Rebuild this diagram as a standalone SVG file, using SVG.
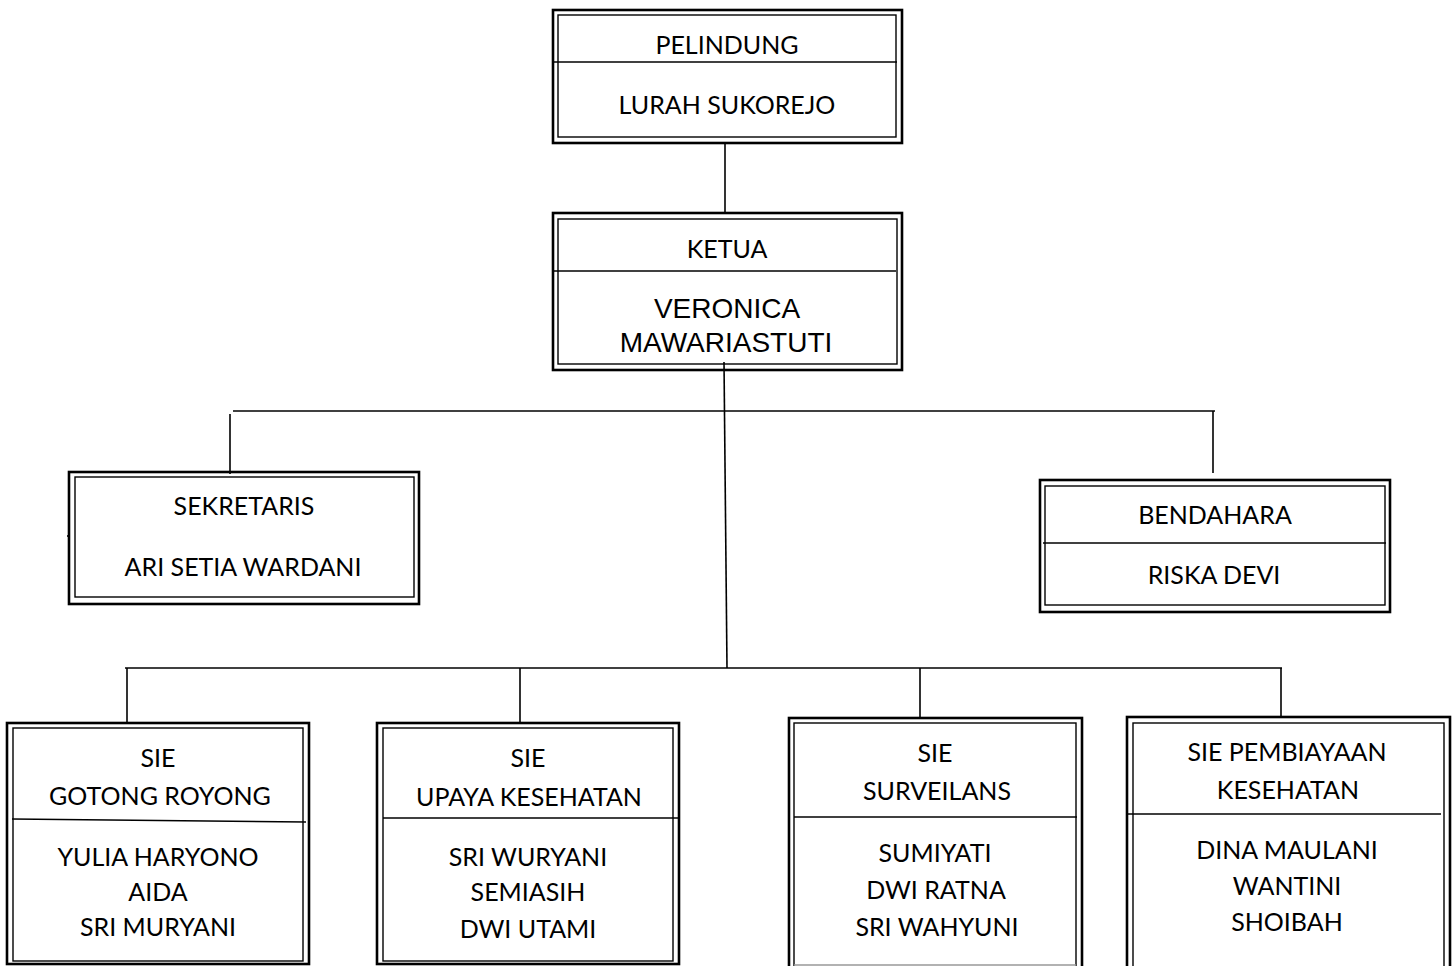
<svg xmlns="http://www.w3.org/2000/svg" width="1452" height="966" viewBox="0 0 1452 966">
<style>
.o{fill:none;stroke:#000;stroke-width:2.6}
.i{fill:none;stroke:#000;stroke-width:1.4}
.d{fill:none;stroke:#000;stroke-width:1.6}
.c{fill:none;stroke:#000;stroke-width:1.6}
text{font-family:Lato,"Open Sans","Liberation Sans",sans-serif;font-size:25px;fill:#000;text-anchor:middle}
.a{font-family:"Liberation Sans",Arial,sans-serif;font-size:28px}
</style>
<rect width="1452" height="966" fill="#fff"/>
<g id="connectors">
<line class="c" x1="725" y1="143" x2="725" y2="213"/>
<line class="c" x1="724" y1="362" x2="727" y2="668"/>
<line class="c" x1="233" y1="411" x2="1215" y2="411"/>
<line class="c" x1="230" y1="414" x2="230" y2="474"/>
<line class="c" x1="1213" y1="411" x2="1213" y2="473"/>
<line class="c" x1="125" y1="668" x2="1282" y2="668"/>
<line class="c" x1="127" y1="668" x2="127" y2="723"/>
<line class="c" x1="520" y1="668" x2="520" y2="723"/>
<line class="c" x1="920" y1="668" x2="920" y2="718"/>
<line class="c" x1="1281" y1="668" x2="1281" y2="717"/>
</g>
<g id="pelindung">
<rect class="o" x="553" y="10" width="349" height="133"/>
<rect class="i" x="558" y="15" width="338" height="122"/>
<line class="d" x1="553" y1="62" x2="897" y2="62"/>
<text x="727" y="54">PELINDUNG</text>
<text x="727" y="114">LURAH SUKOREJO</text>
</g>
<g id="ketua">
<rect class="o" x="553" y="213" width="349" height="157"/>
<rect class="i" x="558" y="219" width="339" height="145"/>
<line class="d" x1="553" y1="271" x2="896" y2="271"/>
<text x="727" y="258">KETUA</text>
<text class="a" x="727" y="318">VERONICA</text>
<text class="a" x="726" y="352">MAWARIASTUTI</text>
</g>
<g id="sekretaris">
<rect class="o" x="69" y="472" width="350" height="132"/>
<rect class="i" x="75" y="477" width="339" height="120"/>
<line class="d" x1="67" y1="536" x2="70" y2="536"/>
<text x="244" y="515">SEKRETARIS</text>
<text x="243" y="576">ARI SETIA WARDANI</text>
</g>
<g id="bendahara">
<rect class="o" x="1040" y="480" width="350" height="132"/>
<rect class="i" x="1045" y="486" width="340" height="119"/>
<line class="d" x1="1043" y1="543" x2="1386" y2="543"/>
<text x="1215" y="524">BENDAHARA</text>
<text x="1214" y="584">RISKA DEVI</text>
</g>
<g id="sie-gotong-royong">
<rect class="o" x="7" y="723" width="302" height="241"/>
<rect class="i" x="13" y="728" width="290" height="233"/>
<line class="d" x1="12" y1="819" x2="306" y2="822"/>
<text x="158" y="767">SIE</text>
<text x="160" y="805">GOTONG ROYONG</text>
<text x="158" y="866">YULIA HARYONO</text>
<text x="158" y="901">AIDA</text>
<text x="158" y="936">SRI MURYANI</text>
</g>
<g id="sie-upaya-kesehatan">
<rect class="o" x="377" y="723" width="302" height="241"/>
<rect class="i" x="383" y="728" width="290" height="233"/>
<line class="d" x1="383" y1="818" x2="678" y2="818"/>
<text x="528" y="767">SIE</text>
<text x="529" y="806">UPAYA KESEHATAN</text>
<text x="528" y="866">SRI WURYANI</text>
<text x="528" y="901">SEMIASIH</text>
<text x="528" y="938">DWI UTAMI</text>
</g>
<g id="sie-surveilans">
<rect class="o" x="789" y="718" width="293" height="270"/>
<rect class="i" x="794" y="723" width="282" height="260"/>
<line x1="794" y1="965" x2="1076" y2="965" stroke="#999" stroke-width="1.4"/>
<line class="d" x1="794" y1="817" x2="1077" y2="817"/>
<text x="935" y="762">SIE</text>
<text x="937" y="800">SURVEILANS</text>
<text x="935" y="862">SUMIYATI</text>
<text x="936" y="899">DWI RATNA</text>
<text x="937" y="936">SRI WAHYUNI</text>
</g>
<g id="sie-pembiayaan-kesehatan">
<rect class="o" x="1127" y="717" width="323" height="270"/>
<rect class="i" x="1133" y="723" width="311" height="260"/>
<line class="d" x1="1128" y1="814" x2="1441" y2="814"/>
<text x="1287" y="761">SIE PEMBIAYAAN</text>
<text x="1288" y="799">KESEHATAN</text>
<text x="1287" y="859">DINA MAULANI</text>
<text x="1287" y="895">WANTINI</text>
<text x="1287" y="931">SHOIBAH</text>
</g>
</svg>
